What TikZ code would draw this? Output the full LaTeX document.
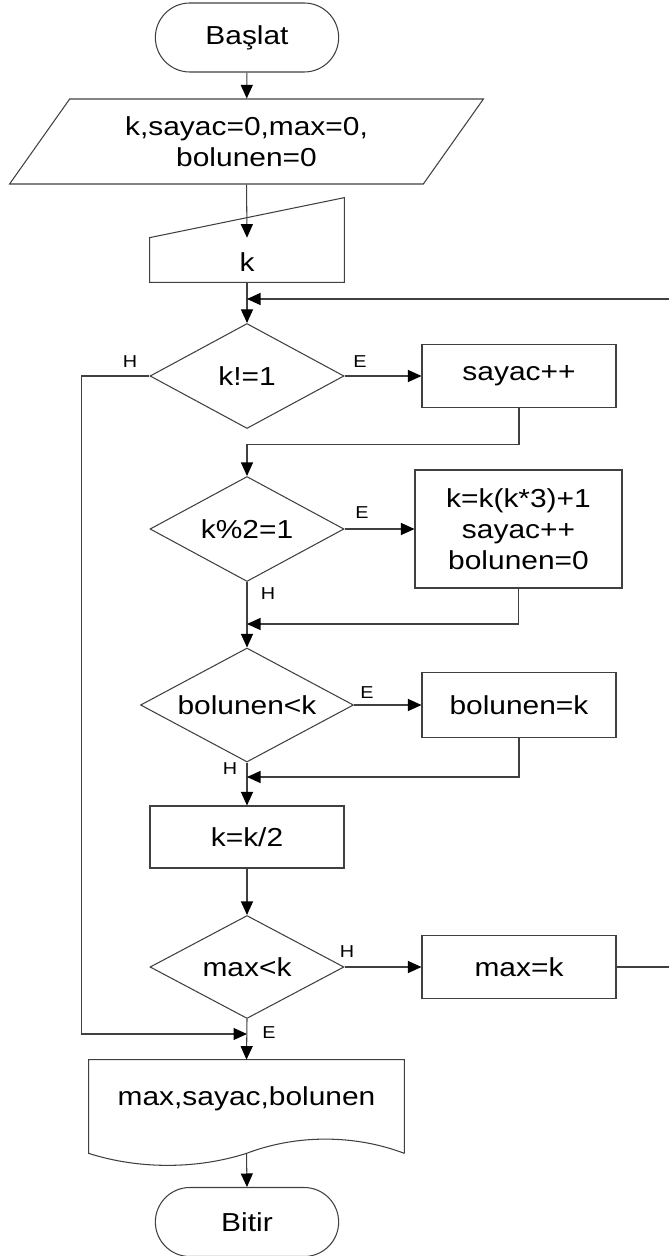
\documentclass[tikz,border=0pt]{standalone}
\usepackage{fontspec}
\setmainfont{Liberation Sans}[FakeStretch=1.15]
\usetikzlibrary{arrows.meta,shapes.geometric,shapes.misc,calc}

\begin{document}
\begin{tikzpicture}[
    txt/.style={font=\fontsize{14.8}{17.6}\selectfont},
    term/.style={draw=black!75, line width=0.6pt, rounded rectangle, minimum width=3.9cm, minimum height=1.38cm, txt},
    io/.style={draw=black!75, line width=0.6pt, trapezium, trapezium left angle=55, trapezium right angle=125, trapezium stretches=true, minimum width=9.5cm, minimum height=1.7cm, align=center, txt},
    proc/.style={draw=black!75, line width=0.6pt, minimum width=3.88cm, minimum height=1.26cm, align=center, txt},
    dec/.style={draw=black!75, line width=0.6pt, diamond, aspect=2, inner sep=1pt, minimum width=3.88cm, minimum height=2.1cm, txt},
    arr/.style={-{Triangle[length=0.27cm, width=0.24cm, color=black]}, line width=0.6pt, draw=black!75},
    lin/.style={line width=0.6pt, draw=black!75},
    lbl/.style={font=\fontsize{9.8}{11}\selectfont, inner sep=0pt}
]
\useasboundingbox (0,0) rectangle (13.36,-25.12);

\node[term] (S) at (4.94,-0.75) {Başlat};
\node[io] (G) at (4.93,-2.83) {k,sayac=0,max=0,\\bolunen=0};
\node[minimum width=3.88cm, minimum height=1.68cm, label={[txt, yshift=-0.44cm]center:k}] (K) at (4.94,-4.8) {};
\coordinate (J1) at (4.94,-5.98);
\node[dec] (D1) at (4.94,-7.52) {k!=1};
\node[proc] (P1) at (10.38,-7.52) {sayac++};
\node[dec] (D2) at (4.94,-10.58) {k\%2=1};
\node[proc, minimum width=4.14cm, minimum height=2.36cm] (P2) at (10.37,-10.58) {k=k(k*3)+1\\sayac++\\bolunen=0};
\coordinate (J2) at (4.94,-12.48);
\node[dec, minimum width=4.26cm, minimum height=2.28cm] (D3) at (4.94,-14.1) {bolunen<k};
\node[proc, minimum height=1.3cm] (P3) at (10.38,-14.1) {bolunen=k};
\coordinate (J3) at (4.94,-15.54);
\node[proc, minimum height=1.24cm] (P4) at (4.94,-16.74) {k=k/2};
\node[dec, minimum height=2.06cm] (D4) at (4.94,-19.34) {max<k};
\node[proc] (P5) at (10.38,-19.34) {max=k};
\coordinate (J5) at (4.94,-20.68);
\node[minimum width=6.3cm, minimum height=1.86cm, label={[txt, yshift=0.15cm]center:max,sayac,bolunen}] (O) at (4.93,-22.13) {};
\node[term] (F) at (4.94,-24.44) {Bitir};

% shapes drawn by hand
\draw[lin] (K.north east) -- (K.south east) -- (K.south west) -- ([yshift=-0.8cm]K.north west) -- cycle;
\draw[lin] (O.south east) -- (O.north east) -- (O.north west) -- (O.south west)
    .. controls +(1.0,-0.32) and +(-1.0,-0.32) .. (O.south)
    .. controls +(1.0,0.38) and +(-1.0,0.38) .. (O.south east);

\node[lbl] (h1) at (2.6,-7.24) {H};
\node[lbl] (e1) at (7.2,-7.24) {E};
\node[lbl] (e2) at (7.24,-10.26) {E};
\node[lbl] (h2) at (5.36,-11.88) {H};
\node[lbl] (e3) at (7.34,-13.86) {E};
\node[lbl] (h3) at (4.6,-15.38) {H};
\node[lbl] (h4) at (6.94,-19.04) {H};
\node[lbl] (e4) at (5.38,-20.66) {E};

\draw[arr] (S) -- (G);
\draw[arr] (G.south) -- ([yshift=-0.8cm]K.north);
\draw[arr] (K.south) -- (D1.north);
\draw[arr] (D1.east) -- (P1.west);
\draw[arr] (D1.west) -- ++(-1.36,0) |- (J5);
\draw[arr] (P1.south) -- ++(0,-0.72) -| (D2.north);
\draw[arr] (D2.east) -- (P2.west);
\draw[arr] (D2.south) -- (D3.north);
\draw[arr] (P2.south) |- (J2);
\draw[arr] (D3.east) -- (P3.west);
\draw[arr] (D3.south) -- (P4.north);
\draw[arr] (P3.south) |- (J3);
\draw[arr] (P4.south) -- (D4.north);
\draw[arr] (D4.east) -- (P5.west);
\draw[arr] (P5.east) -- ++(1.06,0) |- (J1);
\draw[arr] (D4.south) -- (O.north);
\draw[arr] (O.south) -- (F.north);
\end{tikzpicture}
\end{document}
